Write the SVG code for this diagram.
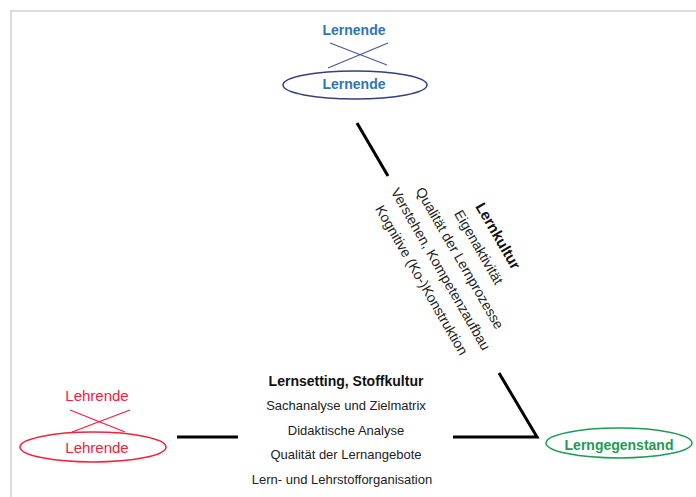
<svg xmlns="http://www.w3.org/2000/svg" width="696" height="497" viewBox="0 0 696 497">
<style>
text{font-family:"Liberation Sans",Arial,sans-serif;text-anchor:middle}
.b{font-weight:bold}
.conn{stroke:#000;stroke-width:3;fill:none}
.n{font-size:13px;fill:#222}
.r{font-size:14px;fill:#222}
</style>
<rect width="696" height="497" fill="#fff"/>
<path d="M11 497V11H696" fill="none" stroke="#dcdcdc" stroke-width="2"/>
<g id="lernende">
<text x="354" y="35" class="b" font-size="14" fill="#2e75b6">Lernende</text>
<path d="M330 43L387 65M388 43L328 68" stroke="#4a5a9e" stroke-width="1.3"/>
<ellipse cx="355" cy="85" rx="72" ry="14" fill="none" stroke="#36407e" stroke-width="1.5"/>
<text x="354" y="89" class="b" font-size="14" fill="#2e75b6">Lernende</text>
</g>
<g id="lehrende">
<text x="97" y="401" font-size="15" fill="#f5213c">Lehrende</text>
<path d="M70 410L125 432M130 410L72 432" stroke="#f5213c" stroke-width="1.3"/>
<ellipse cx="93" cy="447" rx="73" ry="15" fill="none" stroke="#f5213c" stroke-width="1.5"/>
<text x="97" y="453" font-size="15" fill="#f5213c">Lehrende</text>
</g>
<g id="lerngegenstand">
<ellipse cx="619" cy="443" rx="73" ry="15" fill="none" stroke="#1f9a55" stroke-width="1.5"/>
<text x="619" y="450" class="b" font-size="14" fill="#1f9a55">Lerngegenstand</text>
</g>
<g id="connectors">
<path class="conn" d="M357 123L388 176"/>
<path class="conn" d="M177 437H238"/>
<path class="conn" d="M453 437H537L499 373"/>
</g>
<g id="lernkultur" transform="translate(498 236) rotate(60)">
<text x="0" y="5" class="b" font-size="15" fill="#111">Lernkultur</text>
<text x="0" y="27" class="r">Eigenaktivität</text>
<text x="0" y="49" class="r">Qualität der Lernprozesse</text>
<text x="0" y="71" class="r">Verstehen, Kompetenzaufbau</text>
<text x="0" y="93" class="r">Kognitive (Ko-)Konstruktion</text>
</g>
<g id="stoffkultur">
<text x="346" y="386" class="b" font-size="14" fill="#111">Lernsetting, Stoffkultur</text>
<text x="346" y="410" class="n">Sachanalyse und Zielmatrix</text>
<text x="346" y="435" class="n">Didaktische Analyse</text>
<text x="346" y="459" class="n">Qualität der Lernangebote</text>
<text x="342" y="484" class="n">Lern- und Lehrstofforganisation</text>
</g>
</svg>
